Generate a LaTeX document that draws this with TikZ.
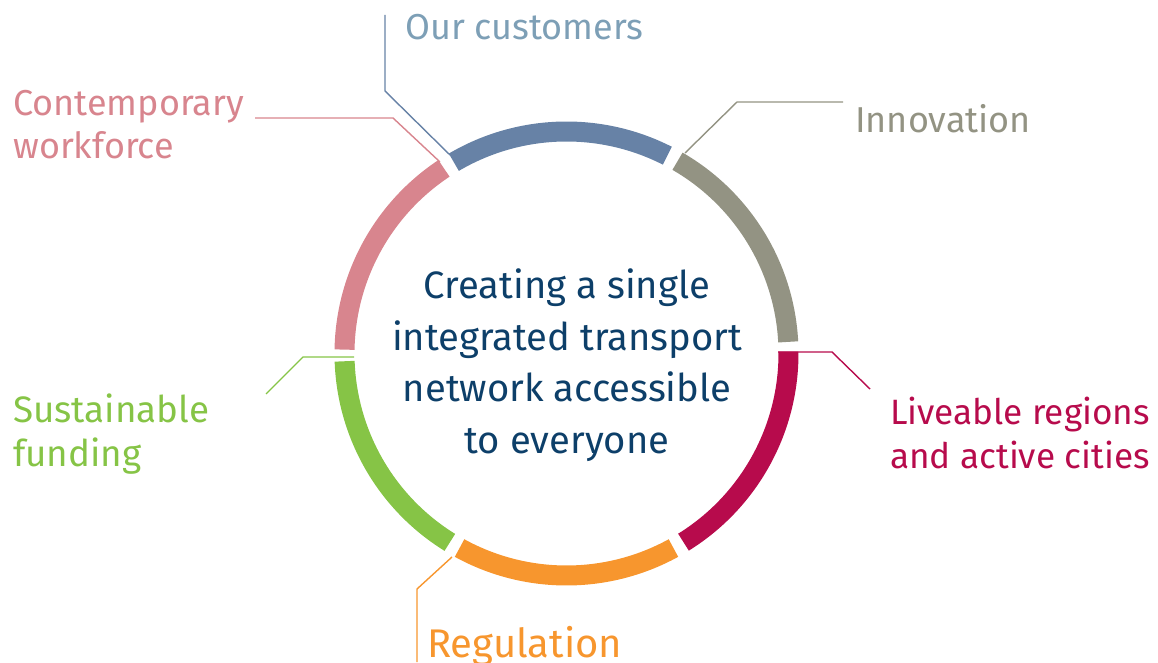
\documentclass[tikz,border=0pt]{standalone}
\usepackage{fontspec}
\setmainfont{Fira Sans}
\definecolor{navy}{HTML}{0D3F69}
\definecolor{ringblue}{HTML}{6782A6}
\definecolor{lblblue}{HTML}{7D9FB6}
\definecolor{ringgray}{HTML}{939383}
\definecolor{ringred}{HTML}{B70B4C}
\definecolor{ringgreen}{HTML}{86C446}
\definecolor{ringorange}{HTML}{F7962E}
\definecolor{ringpink}{HTML}{D8858E}
\begin{document}
\begin{tikzpicture}[x=1pt,y=1pt,
  segment/.style={line width=20pt},
  leader/.style={line width=1.4pt},
  % multi-line nodes sit on the baseline of their last line
  lbl/.style={inner sep=0pt, anchor=base west, align=left,
    font=\fontsize{36}{43.5}\selectfont},
  hub/.style={inner sep=0pt, anchor=base, align=center,
    font=\fontsize{38.2}{51.5}\selectfont, text=navy}]
\useasboundingbox (0,0) rectangle (1158,662);
\coordinate (c) at (566.5,308.5);

% ring of six coloured arcs
\draw[segment, ringgray]   ([shift={(3:222)}]c)     arc[start angle=3,     end angle=60,    radius=222];
\draw[segment, ringblue]   ([shift={(63:222)}]c)    arc[start angle=63,    end angle=120.5, radius=222];
\draw[segment, ringpink]   ([shift={(123.5:222)}]c) arc[start angle=123.5, end angle=179,   radius=222];
\draw[segment, ringgreen]  ([shift={(182:222)}]c)   arc[start angle=182,   end angle=238.3, radius=222];
\draw[segment, ringorange] ([shift={(241.2:222)}]c) arc[start angle=241.2, end angle=298.8, radius=222];
\draw[segment, ringred]    ([shift={(301.8:222)}]c) arc[start angle=301.8, end angle=360.5, radius=222];

% central statement
\node[hub] (hub) at (567,209) {Creating a single\\integrated transport\\network accessible\\to everyone};

% labels
\node[lbl, text=lblblue]    (cust)  at (405,622) {Our customers};
\node[lbl, text=ringgray]   (innov) at (855,529) {Innovation};
\node[lbl, text=ringred, font=\fontsize{35.2}{43.5}\selectfont]
                            (live)  at (890,194) {Liveable regions\\and active cities};
\node[lbl, text=ringorange, font=\fontsize{40}{46}\selectfont]
                            (reg)   at (427,5)   {Regulation};
\node[lbl, text=ringgreen, font=\fontsize{36.8}{43.5}\selectfont]
                            (fund)  at (13,196)  {Sustainable\\funding};
\node[lbl, text=ringpink]   (work)  at (13,503)  {Contemporary\\workforce};

% leader line end points
\coordinate (custA) at (385,647); \coordinate (custB) at (385,571); \coordinate (custC) at (450,507);
\coordinate (workA) at (255,544); \coordinate (workB) at (393,544); \coordinate (workC) at (440,500);
\coordinate (innoA) at (843,560); \coordinate (innoB) at (737,560); \coordinate (innoC) at (685,509);
\coordinate (liveA) at (778,310); \coordinate (liveB) at (832,310); \coordinate (liveC) at (870,273);
\coordinate (fundA) at (354,305); \coordinate (fundB) at (303,305); \coordinate (fundC) at (266,268);
\coordinate (regA)  at (452,105); \coordinate (regB)  at (417,73);  \coordinate (regC)  at (417,0);

\draw[leader, ringblue]   (custA) -- (custB) -- (custC);
\draw[leader, ringpink]   (workA) -- (workB) -- (workC);
\draw[leader, ringgray]   (innoA) -- (innoB) -- (innoC);
\draw[leader, ringred]    (liveA) -- (liveB) -- (liveC);
\draw[leader, ringgreen]  (fundA) -- (fundB) -- (fundC);
\draw[leader, ringorange] (regA)  -- (regB)  -- (regC);
\end{tikzpicture}
\end{document}
